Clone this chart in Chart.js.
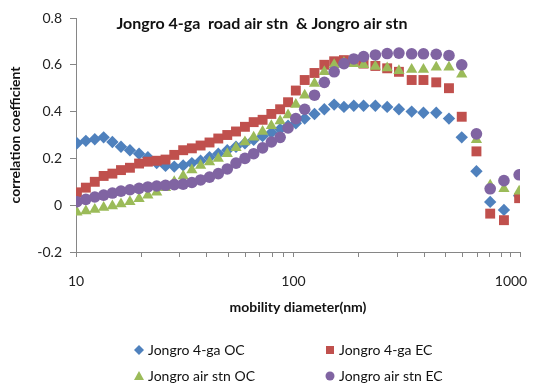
<!DOCTYPE html>
<html>
<head>
<meta charset="utf-8">
<script src="https://cdn.jsdelivr.net/npm/chart.js@4.4.0/dist/chart.umd.min.js"></script>
<style>
  body { margin: 0; background: #fff; }
</style>
</head>
<body>
<canvas id="c" width="536" height="390"></canvas>
<script>
// mobility diameter (nm)
const diameters = [10.1, 11.1, 12.2, 13.4, 14.7, 16.1, 17.7, 19.5, 21.4, 23.5,
  25.8, 28.3, 31.1, 34.1, 37.4, 41.1, 45.1, 49.6, 54.4, 59.8,
  65.6, 72.1, 79.1, 86.8, 94.4, 102.5, 112.6, 124.9, 138.6, 153.8,
  170.6, 189.3, 210, 237.9, 269.6, 305.3, 349.4, 395.8, 453.2, 518.6,
  593.6, 693.7, 802.3, 928, 1090]

const roadOC = [0.265, 0.275, 0.282, 0.29, 0.27, 0.25, 0.235, 0.22, 0.205, 0.18,
  0.168, 0.165, 0.17, 0.18, 0.19, 0.205, 0.22, 0.235, 0.25, 0.265,
  0.28, 0.295, 0.31, 0.325, 0.34, 0.35, 0.37, 0.39, 0.41, 0.43,
  0.42, 0.425, 0.425, 0.425, 0.42, 0.41, 0.4, 0.395, 0.395, 0.37,
  0.29, 0.145, 0.014, -0.02, 0.04]

const roadEC = [0.055, 0.075, 0.1, 0.125, 0.135, 0.15, 0.16, 0.178, 0.186, 0.19,
  0.195, 0.215, 0.235, 0.243, 0.255, 0.268, 0.285, 0.3, 0.315, 0.335,
  0.355, 0.365, 0.39, 0.41, 0.44, 0.49, 0.535, 0.565, 0.6, 0.615,
  0.62, 0.615, 0.605, 0.595, 0.585, 0.57, 0.535, 0.535, 0.525, 0.5,
  0.378, 0.23, -0.036, -0.064, 0.03]

const airOC = [-0.03, -0.025, -0.018, -0.01, -0.003, 0.005, 0.015, 0.028, 0.042, 0.055,
  0.075, 0.1, 0.125, 0.15, 0.17, 0.185, 0.2, 0.22, 0.245, 0.27,
  0.29, 0.315, 0.34, 0.36, 0.385, 0.43, 0.47, 0.52, 0.57, 0.6,
  0.61, 0.605, 0.6, 0.593, 0.586, 0.575, 0.58, 0.58, 0.59, 0.59,
  0.56, 0.28, 0.085, 0.07, 0.06]

const airEC = [0.015, 0.025, 0.035, 0.043, 0.052, 0.06, 0.066, 0.072, 0.078, 0.082,
  0.085, 0.088, 0.09, 0.097, 0.108, 0.12, 0.135, 0.155, 0.18, 0.2,
  0.22, 0.245, 0.27, 0.29, 0.33, 0.37, 0.41, 0.47, 0.525, 0.57,
  0.605, 0.625, 0.635, 0.642, 0.648, 0.65, 0.647, 0.647, 0.645, 0.64,
  0.6, 0.305, 0.07, 0.105, 0.13]

const seriesNames = ['Jongro 4-ga OC', 'Jongro 4-ga EC', 'Jongro air stn OC', 'Jongro air stn EC']
const xTicks = [10, 20, 30, 40, 50, 60, 70, 80, 90, 100, 200, 300, 400, 500, 600, 700, 800, 900, 1000, 1100]
const xLabels = [10, 100, 1000]
const chartTitle = 'Jongro 4-ga  road air stn  & Jongro air stn'

const FONT = 'Lato, "Open Sans", sans-serif'
const colors = ['#4F81BD', '#C0504D', '#9BBB59', '#8064A2']
const styles = ['rectRot', 'rect', 'triangle', 'circle']
const radii = [6.2, 7, 6.5, 5.8]

const pts = ys => ys.map((y, i) => ({ x: diameters[i], y: y }))

const titlePlugin = {
  id: 'topTitle',
  afterDraw(chart) {
    const ctx = chart.ctx
    ctx.save()
    ctx.font = 'bold 16px ' + FONT
    ctx.fillStyle = '#111'
    ctx.textAlign = 'center'
    ctx.textBaseline = 'middle'
    ctx.fillText(chartTitle, 262, 24)
    ctx.restore()
  }
}

// two-column legend under the axis title
const legendPlugin = {
  id: 'gridLegend',
  afterDraw(chart) {
    const ctx = chart.ctx
    const cols = [139, 330]
    const rows = [350, 376]
    ctx.save()
    ctx.font = '14px ' + FONT
    ctx.textBaseline = 'middle'
    ctx.textAlign = 'left'
    chart.data.datasets.forEach((ds, i) => {
      const x = cols[i % 2]
      const y = rows[Math.floor(i / 2)]
      ctx.fillStyle = ds.backgroundColor
      ctx.beginPath()
      if (ds.pointStyle === 'rectRot') {
        ctx.moveTo(x, y - 5); ctx.lineTo(x + 5, y); ctx.lineTo(x, y + 5); ctx.lineTo(x - 5, y)
      } else if (ds.pointStyle === 'rect') {
        ctx.rect(x - 4, y - 4, 8, 8)
      } else if (ds.pointStyle === 'triangle') {
        ctx.moveTo(x, y - 5); ctx.lineTo(x + 5, y + 4); ctx.lineTo(x - 5, y + 4)
      } else {
        ctx.arc(x, y, 4.5, 0, Math.PI * 2)
      }
      ctx.closePath()
      ctx.fill()
      ctx.fillStyle = '#111'
      ctx.fillText(ds.label, x + 9, y)
    })
    ctx.restore()
  }
}

new Chart(document.getElementById('c'), {
  type: 'scatter',
  data: {
    datasets: [roadOC, roadEC, airOC, airEC].map((ys, i) => ({
      label: seriesNames[i],
      data: pts(ys),
      showLine: false,
      pointStyle: styles[i],
      pointRadius: radii[i],
      pointHoverRadius: radii[i],
      backgroundColor: colors[i],
      borderColor: colors[i],
      borderWidth: 0,
      order: 4 - i
    }))
  },
  options: {
    responsive: false,
    animation: false,
    layout: { padding: { top: 18, right: 9, bottom: 70, left: 0 } },
    plugins: {
      legend: { display: false },
      tooltip: { enabled: false }
    },
    scales: {
      x: {
        type: 'logarithmic',
        min: 10,
        max: 1100,
        afterBuildTicks(scale) {
          scale.ticks = xTicks.map(v => ({ value: v }))
        },
        afterFit(scale) { scale.height = 68 },
        ticks: {
          autoSkip: false,
          maxRotation: 0,
          padding: 16,
          color: '#222',
          font: { family: FONT, size: 14 },
          callback: v => xLabels.includes(v) ? String(v) : ''
        },
        grid: { drawOnChartArea: false, drawTicks: true, tickLength: 5, color: '#868686' },
        border: { display: true, color: '#868686' },
        title: {
          display: true,
          text: 'mobility diameter(nm)',
          color: '#111',
          font: { family: FONT, size: 14, weight: 'bold' },
          padding: { top: 0, bottom: 4 }
        }
      },
      y: {
        min: -0.2,
        max: 0.8,
        afterFit(scale) { scale.width = 76 },
        ticks: {
          stepSize: 0.2,
          padding: 8,
          color: '#222',
          font: { family: FONT, size: 14 },
          callback: v => String(Math.round(v * 10) / 10)
        },
        grid: { drawOnChartArea: false, drawTicks: true, tickLength: 6, color: '#868686' },
        border: { display: true, color: '#868686' },
        title: {
          display: true,
          text: 'correlation coefficient',
          color: '#111',
          font: { family: FONT, size: 14, weight: 'bold' },
          padding: { top: 7, bottom: 0 }
        }
      }
    }
  },
  plugins: [titlePlugin, legendPlugin]
})
</script>
</body>
</html>
